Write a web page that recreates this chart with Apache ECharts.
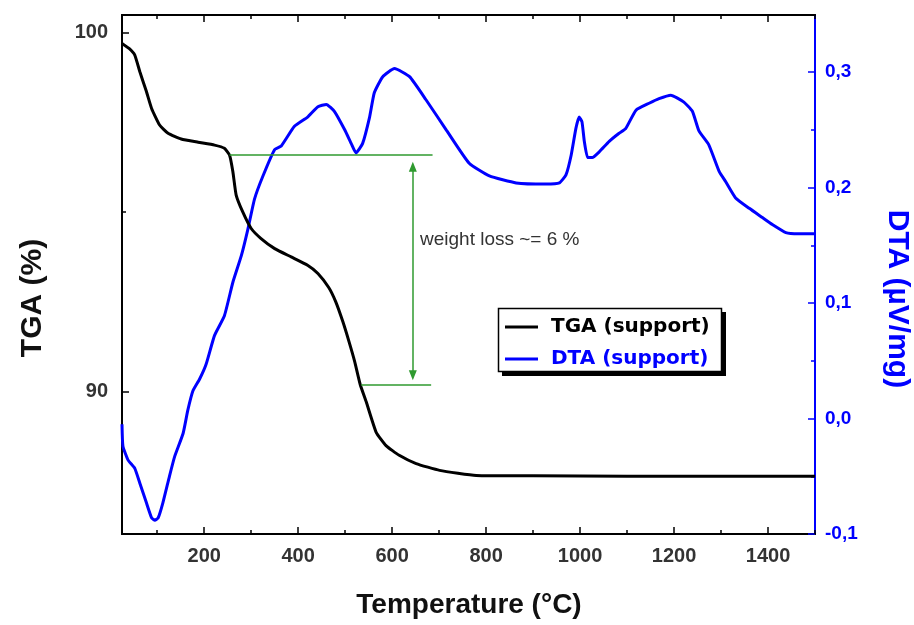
<!DOCTYPE html>
<html>
<head>
<meta charset="utf-8">
<script src="https://cdn.jsdelivr.net/npm/echarts@6/dist/echarts.min.js"></script>
<style>
  html, body { margin: 0; padding: 0; background: #fff; }
  #chart { width: 914px; height: 625px; }
</style>
</head>
<body>
<div id="chart"></div>
<script>
// TGA curve (support), temperature in °C and mass in %
var tgaTemp = [25, 40, 52, 63, 77, 88, 105, 123, 151, 187, 222, 243, 254, 261, 268, 282, 300, 321, 350, 385,
	420, 442, 465, 480, 495, 508, 520, 532, 545, 566, 587, 615, 651, 701, 779, 900, 1100, 1300, 1500];
var tgaValue = [99.69, 99.55, 99.37, 98.9, 98.35, 97.88, 97.42, 97.19, 97.03, 96.94, 96.86, 96.77, 96.58, 96.12, 95.47, 95.0, 94.54, 94.26, 93.98, 93.75,
	93.52, 93.29, 92.9, 92.5, 91.95, 91.4, 90.85, 90.2, 89.71, 88.87, 88.5, 88.23, 88.0, 87.81, 87.67, 87.66, 87.65, 87.65, 87.65];

// DTA curve (support), µV/mg
var dtaTemp = [25, 27, 38, 52, 63, 77, 88, 95, 102, 112, 126, 137, 155, 165, 176, 190, 204, 222, 243, 261,
	279, 293, 307, 325, 350, 364, 392, 420, 442, 460, 477, 499, 513, 523, 537, 552, 562, 580, 605, 637,
	672, 715, 764, 807, 864, 927, 956, 970, 981, 991, 998, 1004, 1009, 1016, 1026, 1041, 1062, 1083, 1097, 1119,
	1147, 1168, 1193, 1221, 1239, 1253, 1274, 1296, 1310, 1331, 1360, 1388, 1409, 1438, 1465, 1500];
var dtaValue = [-0.005, -0.024, -0.036, -0.043, -0.056, -0.073, -0.086, -0.088, -0.086, -0.073, -0.05, -0.033, -0.013, 0.007, 0.024, 0.034, 0.047, 0.072, 0.089, 0.118,
	0.141, 0.164, 0.19, 0.21, 0.233, 0.236, 0.253, 0.261, 0.27, 0.272, 0.266, 0.25, 0.238, 0.23, 0.238, 0.261, 0.282, 0.296, 0.303, 0.296,
	0.276, 0.25, 0.221, 0.21, 0.204, 0.203, 0.204, 0.211, 0.228, 0.251, 0.261, 0.257, 0.24, 0.226, 0.226, 0.231, 0.24, 0.247, 0.251, 0.267,
	0.273, 0.277, 0.28, 0.274, 0.266, 0.249, 0.237, 0.214, 0.205, 0.191, 0.182, 0.174, 0.168, 0.161, 0.16, 0.16];

// ticks
var xMajor = [200, 400, 600, 800, 1000, 1200, 1400];
var xMinor = [100, 300, 500, 700, 900, 1100, 1300, 1500];
var tgaMajor = [90, 100];
var tgaMinor = [95];
var dtaMajor = [-0.1, 0, 0.1, 0.2, 0.3];
var dtaMinor = [-0.05, 0.05, 0.15, 0.25];

// weight loss annotation (TGA units)
var lossTop = 96.58;
var lossBottom = 90.18;

function pairs(xs, ys){
	var out = [];
	for (var i = 0; i < xs.length; i++) {
		out.push([xs[i], ys[i]]);
	}
	return out;
}

var labelFont = { fontSize: 20, fontWeight: 'bold', fontFamily: 'Liberation Sans', color: '#333' };
var green = '#2f9a2f';
var blue = '#0000ff';

function xAxisDef(pos, ticks, len, withLabel){
	return {
		type: 'value', position: pos, min: 25, max: 1500,
		axisLine: { show: true, onZero: false, lineStyle: { color: '#000', width: 2 } },
		axisTick: { show: true, inside: true, length: len, customValues: ticks, lineStyle: { color: '#000', width: 1.5 } },
		axisLabel: withLabel ? Object.assign({
			show: true, customValues: ticks, margin: 12,
			formatter: function(v){ return String(v); }
		}, labelFont) : { show: false },
		splitLine: { show: false }
	};
}

var chart = echarts.init(document.getElementById('chart'));

var option = {
	backgroundColor: '#fff',
	animation: false,
	grid: { left: 122, right: 99, top: 15, bottom: 91 },
	xAxis: [
		xAxisDef('bottom', xMajor, 7, true),
		xAxisDef('bottom', xMinor, 4, false),
		xAxisDef('top', xMajor, 7, false),
		xAxisDef('top', xMinor, 4, false)
	],
	yAxis: [
		{
			type: 'value', position: 'left', min: 86.04, max: 100.48,
			axisLine: { show: true, onZero: false, lineStyle: { color: '#000', width: 2 } },
			axisTick: { show: true, inside: true, length: 7, customValues: tgaMajor, lineStyle: { color: '#000', width: 1.5 } },
			axisLabel: Object.assign({ customValues: tgaMajor, margin: 14 }, labelFont),
			splitLine: { show: false }
		},
		{
			type: 'value', position: 'left', min: 86.04, max: 100.48,
			axisLine: { show: false },
			axisTick: { show: true, inside: true, length: 4, customValues: tgaMinor, lineStyle: { color: '#000', width: 1.5 } },
			axisLabel: { show: false },
			splitLine: { show: false }
		},
		{
			type: 'value', position: 'right', min: -0.1, max: 0.3494,
			axisLine: { show: true, onZero: false, lineStyle: { color: blue, width: 2 } },
			axisTick: { show: true, inside: true, length: 7, customValues: dtaMajor, lineStyle: { color: blue, width: 1.5 } },
			axisLabel: Object.assign({}, labelFont, {
				customValues: dtaMajor, margin: 10, color: blue, fontSize: 19,
				formatter: function(v){ return v.toFixed(1).replace('.', ','); }
			}),
			splitLine: { show: false }
		},
		{
			type: 'value', position: 'right', min: -0.1, max: 0.3494,
			axisLine: { show: false },
			axisTick: { show: true, inside: true, length: 4, customValues: dtaMinor, lineStyle: { color: blue, width: 1.5 } },
			axisLabel: { show: false },
			splitLine: { show: false }
		}
	],
	legend: {
		orient: 'vertical',
		left: 501, top: 311,
		padding: [6, 8, 6, 4],
		icon: 'rect',
		itemWidth: 33, itemHeight: 3, itemGap: 12,
		z: 10,
		textStyle: { fontSize: 20, fontWeight: 'bold', fontFamily: 'DejaVu Sans', padding: [0, 0, 0, 8] },
		data: [
			{ name: 'TGA (support)', textStyle: { color: '#000' } },
			{ name: 'DTA (support)', textStyle: { color: blue } }
		]
	},
	series: [
		{
			name: 'TGA (support)', type: 'line', xAxisIndex: 0, yAxisIndex: 0,
			symbol: 'none', smooth: 0.15,
			lineStyle: { color: '#000', width: 3 }, itemStyle: { color: '#000' },
			data: pairs(tgaTemp, tgaValue),
			markLine: {
				silent: true, animation: false,
				label: { show: false },
				lineStyle: { color: green, width: 1.5, type: 'solid' },
				symbolSize: [8, 10],
				data: [
					[{ coord: [254, lossTop], symbol: 'none' }, { coord: [686, lossTop], symbol: 'none' }],
					[{ coord: [534, lossBottom], symbol: 'none' }, { coord: [683, lossBottom], symbol: 'none' }],
					[{ coord: [644, 96.26], symbol: 'triangle' }, { coord: [644, 90.46], symbol: 'triangle' }]
				]
			},
			z: 3
		},
		{
			name: 'DTA (support)', type: 'line', xAxisIndex: 0, yAxisIndex: 2,
			symbol: 'none', smooth: 0.15,
			lineStyle: { color: blue, width: 3 }, itemStyle: { color: blue },
			data: pairs(dtaTemp, dtaValue),
			z: 2
		}
	],
	graphic: [
		// legend frame with solid drop shadow
		{ type: 'rect', z: 5, shape: { x: 502, y: 312, width: 224, height: 64 }, style: { fill: '#000' } },
		{ type: 'rect', z: 6, shape: { x: 498.5, y: 308.5, width: 223, height: 63 }, style: { fill: '#fff', stroke: '#000', lineWidth: 1.5 } },
		{
			type: 'text', x: 469, y: 605,
			style: { text: 'Temperature (°C)', font: 'bold 28px "Liberation Sans"', fill: '#111', align: 'center', verticalAlign: 'middle' }
		},
		{
			type: 'text', x: 33, y: 298, rotation: Math.PI / 2,
			style: { text: 'TGA (%)', font: 'bold 30px "Liberation Sans"', fill: '#111', align: 'center', verticalAlign: 'middle' }
		},
		{
			type: 'text', x: 897, y: 299, rotation: -Math.PI / 2,
			style: { text: 'DTA (µV/mg)', font: 'bold 30px "Liberation Sans"', fill: blue, align: 'center', verticalAlign: 'middle' }
		},
		{
			type: 'text', x: 420, y: 240,
			style: { text: 'weight loss ~= 6 %', font: '19px "Liberation Sans"', fill: '#333', align: 'left', verticalAlign: 'middle' }
		}
	]
};

chart.setOption(option);
</script>
</body>
</html>
